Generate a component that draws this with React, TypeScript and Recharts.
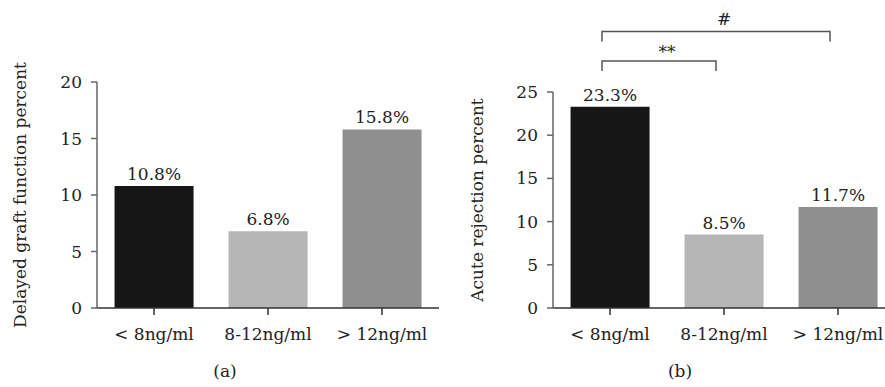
// Two-panel bar chart: delayed graft function (a) and acute rejection (b)
// by tacrolimus trough level group

import { BarChart, Bar, XAxis, YAxis, Cell, LabelList, ReferenceLine } from 'recharts';

const categories = ['< 8ng/ml', '8-12ng/ml', '> 12ng/ml'];
const dgfValues = [10.8, 6.8, 15.8];
const rejectionValues = [23.3, 8.5, 11.7];
const dgfTicks = [0, 5, 10, 15, 20];
const rejectionTicks = [0, 5, 10, 15, 20, 25];

// significance brackets on panel (b): [from, to, label, top value]
const bracketFrom = ['< 8ng/ml', '< 8ng/ml'];
const bracketTo = ['> 12ng/ml', '8-12ng/ml'];
const bracketLabels = ['#', '**'];
const bracketLevels = [32, 28.6];

const BAR_COLORS = ['#161616', '#b6b6b6', '#8f8f8f'];
const FONT = '"DejaVu Serif", serif';
const TEXT = '#222';
const FS = 17;

const dgfData = categories.map((name, i) => ({ name, value: dgfValues[i] }));
const rejectionData = categories.map((name, i) => ({ name, value: rejectionValues[i] }));

const tickStyle = { fill: TEXT, fontSize: FS, fontFamily: FONT };

function bracketShape(props: any) {
  const { x1, y1, x2 } = props;
  const l = x1 - 8;
  const r = x2 - 8;
  return (
    <path
      d={`M${l},${y1 + 10}V${y1}H${r}V${y1 + 10}`}
      fill="none"
      stroke="#555"
      strokeWidth={1.5}
    />
  );
}

function Panel({
  data,
  ticks,
  yLabel,
  width,
  marginTop,
  yAxisWidth,
  labelOffset,
  rightMargin,
  children,
}: any) {
  return (
    <BarChart
      width={width}
      height={387}
      data={data}
      margin={{ top: marginTop, right: rightMargin, bottom: 39, left: 5 }}
      barCategoryGap="15.4%"
      style={{ fontFamily: FONT }}
    >
      <XAxis
        dataKey="name"
        height={40}
        tick={tickStyle}
        tickSize={7}
        tickMargin={13}
        axisLine={{ stroke: '#333', strokeWidth: 1.5 }}
        tickLine={{ stroke: '#333', strokeWidth: 1.5 }}
        interval={0}
      />
      <YAxis
        width={yAxisWidth}
        domain={[0, ticks[ticks.length - 1]]}
        ticks={ticks}
        tick={tickStyle}
        tickSize={6}
        tickMargin={9}
        axisLine={{ stroke: '#666', strokeWidth: 1.5 }}
        tickLine={{ stroke: '#666', strokeWidth: 1.5 }}
        allowDataOverflow
        label={{
          value: yLabel,
          angle: -90,
          position: 'insideLeft',
          offset: labelOffset,
          style: { textAnchor: 'middle', fill: TEXT, fontSize: FS, fontFamily: FONT },
        }}
      />
      <Bar dataKey="value" isAnimationActive={false}>
        {data.map((_: any, i: number) => (
          <Cell key={`cell-${i}`} fill={BAR_COLORS[i]} />
        ))}
        <LabelList
          dataKey="value"
          position="top"
          offset={6}
          formatter={(v: any) => `${v}%`}
          style={{ fill: TEXT, fontSize: FS, fontFamily: FONT }}
        />
      </Bar>
      {children}
    </BarChart>
  );
}

export default function App() {
  return (
    <div
      style={{
        position: 'absolute',
        left: 0,
        top: 0,
        width: 885,
        height: 387,
        overflow: 'hidden',
        background: '#fff',
        fontFamily: FONT,
        color: TEXT,
      }}
    >
      <div style={{ position: 'absolute', left: 0, top: 0 }}>
        <Panel
          data={dgfData}
          ticks={dgfTicks}
          yLabel="Delayed graft function percent"
          width={445}
          marginTop={82}
          yAxisWidth={92}
          labelOffset={15}
          rightMargin={6}
        />
      </div>
      <div style={{ position: 'absolute', left: 440, top: 0 }}>
        <Panel
          data={rejectionData}
          ticks={rejectionTicks}
          yLabel="Acute rejection percent"
          width={455}
          marginTop={92}
          yAxisWidth={108}
          labelOffset={32}
          rightMargin={0}
        >
          {bracketLabels.map((lab, i) => (
            <ReferenceLine
              key={lab}
              segment={[
                { x: bracketFrom[i], y: bracketLevels[i] },
                { x: bracketTo[i], y: bracketLevels[i] },
              ]}
              ifOverflow="visible"
              shape={bracketShape}
              label={{
                value: lab,
                position: 'top',
                offset: i === 0 ? 7 : 3,
                fill: TEXT,
                fontSize: FS,
                fontFamily: FONT,
              }}
            />
          ))}
        </Panel>
      </div>
      <div
        style={{
          position: 'absolute',
          left: 195,
          top: 361,
          width: 60,
          textAlign: 'center',
          fontSize: FS,
          lineHeight: '20px',
        }}
      >
        (a)
      </div>
      <div
        style={{
          position: 'absolute',
          left: 650,
          top: 361,
          width: 60,
          textAlign: 'center',
          fontSize: FS,
          lineHeight: '20px',
        }}
      >
        (b)
      </div>
    </div>
  );
}
